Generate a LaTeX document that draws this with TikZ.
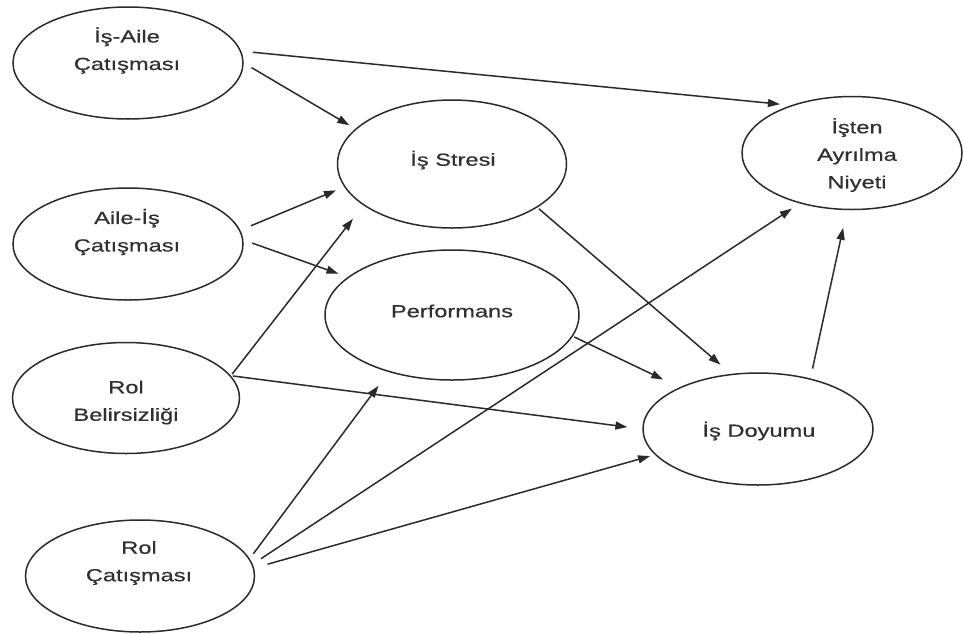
\documentclass[tikz,border=0pt]{standalone}
\usepackage{fontspec}
\setmainfont{Liberation Sans}[FakeStretch=1.35,FakeBold=0.6]
\usetikzlibrary{shapes.geometric,arrows.meta}
\definecolor{ink}{HTML}{2A2A2A}
\definecolor{txtc}{HTML}{303030}
\begin{document}
\begin{tikzpicture}[x=1pt,y=-1pt,
  ell/.style={ellipse,draw=ink,line width=1.5pt,inner sep=0pt},
  txt/.style={align=center,text=txtc,font=\fontsize{17.5}{27.5}\selectfont,inner sep=0pt},
  arr/.style={draw=ink,line width=1.5pt,-{Triangle[length=12pt,width=8pt]}}]
\useasboundingbox (0,0) rectangle (964,633);
% ellipses
\node[ell,minimum width=230,minimum height=112] (ia) at (128,63) {};
\node[ell,minimum width=230,minimum height=112] (ai) at (128,244) {};
\node[ell,minimum width=227,minimum height=111] (rb) at (126,398) {};
\node[ell,minimum width=229,minimum height=112] (rc) at (140,576) {};
\node[ell,minimum width=229,minimum height=128] (is) at (452,164) {};
\node[ell,minimum width=254,minimum height=130] (pf) at (452,315) {};
\node[ell,minimum width=230,minimum height=112] (id) at (758,429) {};
\node[ell,minimum width=220,minimum height=113] (ni) at (852,153) {};
% texts
\node[txt] (iat) at (127,50.5) {İş-Aile\\Çatışması};
\node[txt] (ait) at (127,232) {Aile-İş\\Çatışması};
\node[txt] (rbt) at (126,402.5) {Rol\\Belirsizliği};
\node[txt] (rct) at (139,563) {Rol\\Çatışması};
\node[txt] (ist) at (453,160) {İş Stresi};
\node[txt] (pft) at (452,311) {Performans};
\node[txt] (idt) at (759,431) {İş Doyumu};
\node[txt] (nit) at (857,155) {İşten\\Ayrılma\\Niyeti};
% connectors
\draw[arr,shorten <=11.7pt,shorten >=11pt] (ia.6) -- (ni.142.4);
\draw[arr,shorten <=9pt,shorten >=7pt] (ia.-0.5) -- (is.160.9);
\draw[arr,shorten <=11.4pt,shorten >=9pt] (ai.7) -- (is.192.3);
\draw[arr,shorten <=9.3pt,shorten >=9.8pt] (ai.2.3) -- (pf.160.7);
\draw[arr,shorten <=2pt,shorten >=17pt] (rb.12.4) -- (is.205);
\draw[arr,shorten <=2pt,shorten >=15pt] (rb.12.4) -- (id.180.4);
\draw[arr,shorten <=6pt,shorten >=17pt] (rc.9.4) -- (pf.222.2);
\draw[arr,shorten <=10pt,shorten >=9.4pt] (rc.6.5) -- (ni.224.5);
\draw[arr,shorten <=14pt,shorten >=5pt] (rc.4.5) -- (id.194.8);
\draw[arr,shorten <=2pt,shorten >=14pt] (is.-27.1) -- (id.116.2);
\draw[arr,shorten <=1.5pt,shorten >=18pt] (pf.-10.3) -- (id.152.7);
\draw[arr,shorten <=10pt,shorten >=18pt] (id.44) -- (ni.265.4);
\end{tikzpicture}
\end{document}
